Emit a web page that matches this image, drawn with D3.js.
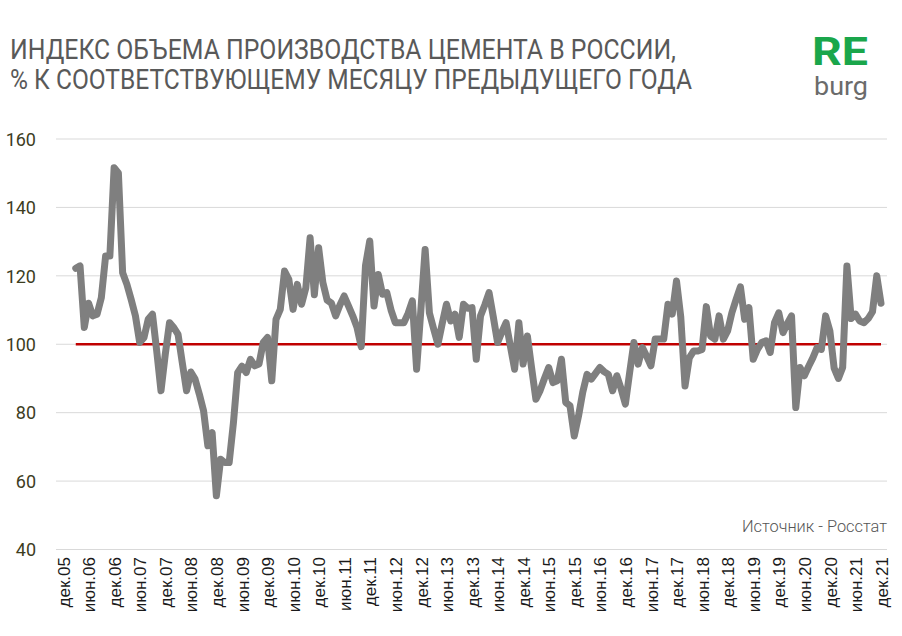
<!DOCTYPE html>
<html>
<head>
<meta charset="utf-8">
<script src="https://cdn.jsdelivr.net/npm/d3@7"></script>
<style>
  html, body { margin: 0; padding: 0; background: #ffffff; }
  svg { display: block; }
</style>
</head>
<body>
<svg id="chart" width="902" height="636"></svg>
<script>
// ---- DATA ----
const titleLines = [
  "ИНДЕКС ОБЪЕМА ПРОИЗВОДСТВА ЦЕМЕНТА В РОССИИ,",
  "% К СООТВЕТСТВУЮЩЕМУ МЕСЯЦУ ПРЕДЫДУЩЕГО ГОДА"
];
const sourceText = "Источник - Росстат";
const monthNames = ["янв","фев","мар","апр","май","июн","июл","авг","сен","окт","ноя","дек"];
const years = ["05","06","07","08","09","10","11","12","13","14","15","16","17","18","19","20","21"];
// categories: дек.05 ... дек.21
const categories = ["дек.05"];
years.slice(1).forEach(y => monthNames.forEach(m => categories.push(m + "." + y)));

const tickLabels = [
  "дек.05","июн.06","дек.06","июн.07","дек.07","июн.08","дек.08","июн.09","дек.09",
  "июн.10","дек.10","июн.11","дек.11","июн.12","дек.12","июн.13","дек.13","июн.14",
  "дек.14","июн.15","дек.15","июн.16","дек.16","июн.17","дек.17","июн.18","дек.18",
  "июн.19","дек.19","июн.20","дек.20","июн.21","дек.21"
];
const yTicks = [40, 60, 80, 100, 120, 140, 160];
const seriesStart = "мар.06";
// index, % to same month of previous year (мар.06 ... дек.21)
const cementIndex = [
  122.2, 122.9, 104.9, 112.0, 108.3, 108.8, 113.6, 125.8, 125.8, 151.6,            // мар.06 - дек.06
  150.1, 120.9, 117.5, 113.1, 108.3, 100.5, 101.9, 107.3, 108.8, 98.0, 86.4, 97.0,  // 2007
  106.3, 104.9, 102.9, 94.6, 86.4, 91.9, 89.8, 85.4, 80.5, 70.3, 74.2, 55.7,        // 2008
  66.4, 65.4, 65.4, 77.0, 91.7, 93.6, 91.7, 95.6, 93.7, 94.2, 100.5, 102.0,         // 2009
  89.3, 107.3, 110.2, 121.4, 119.0, 110.2, 117.5, 111.7, 116.5, 131.1, 114.5, 128.2, // 2010
  118.0, 112.9, 112.0, 108.3, 111.5, 114.1, 111.2, 108.3, 105.0, 99.3, 123.0, 130.2, // 2011
  111.2, 120.4, 114.6, 115.1, 110.0, 106.3, 106.3, 106.3, 109.0, 112.7, 92.7, 110.0, // 2012
  127.7, 109.2, 104.5, 100.0, 106.0, 111.7, 106.8, 108.8, 102.0, 111.7, 110.5, 110.7, // 2013
  95.6, 108.3, 111.5, 115.1, 108.0, 100.5, 103.5, 106.3, 99.5, 92.7, 106.3, 94.2,   // 2014
  102.4, 93.0, 83.9, 86.5, 90.0, 93.2, 88.8, 89.3, 95.6, 83.0, 82.0, 73.2,          // 2015
  79.0, 86.0, 91.2, 89.8, 91.5, 93.2, 92.0, 91.2, 86.4, 90.8, 87.0, 82.5,           // 2016
  91.7, 100.5, 94.2, 99.0, 96.5, 93.7, 101.5, 101.5, 101.5, 111.7, 108.8, 118.5,    // 2017
  108.0, 87.8, 96.0, 98.0, 98.0, 98.5, 111.0, 102.4, 101.5, 108.3, 101.5, 103.9,    // 2018
  109.2, 113.1, 116.8, 107.3, 110.7, 95.6, 98.5, 100.5, 101.0, 97.6, 106.3, 109.2,  // 2019
  103.4, 106.0, 108.3, 81.5, 93.2, 90.8, 93.5, 96.0, 99.0, 98.5, 108.3, 103.9,      // 2020
  93.0, 90.0, 93.2, 122.9, 107.5, 108.8, 106.8, 106.3, 107.5, 109.5, 120.0, 112.0   // 2021
];
const baseline = 100;

// ---- CHART ----
const svg = d3.select("#chart");
const plotLeft = 56, plotRight = 887;

const x = d3.scalePoint().domain(categories).range([63, 881]);
const y = d3.scaleLinear().domain([40, 160]).range([549.5, 139]);

const startIdx = categories.indexOf(seriesStart);
const series = cementIndex.map((v, k) => ({ cat: categories[startIdx + k], v }));

// title
const title = svg.append("g").attr("font-family", "Roboto, 'DejaVu Sans Condensed', sans-serif")
  .attr("fill", "#595959").attr("font-size", 27);
title.append("text").attr("x", 10).attr("y", 59).attr("textLength", 666)
  .attr("lengthAdjust", "spacingAndGlyphs").text(titleLines[0]);
title.append("text").attr("x", 10).attr("y", 89).attr("textLength", 682)
  .attr("lengthAdjust", "spacingAndGlyphs").text(titleLines[1]);

// logo
svg.append("text").attr("x", 812).attr("y", 65).attr("font-family", "Roboto, sans-serif")
  .attr("font-weight", 700).attr("font-size", 38).attr("fill", "#1aa64b")
  .attr("textLength", 56).attr("lengthAdjust", "spacingAndGlyphs").text("RE");
svg.append("text").attr("x", 814).attr("y", 95).attr("font-family", "Roboto, sans-serif")
  .attr("font-weight", 400).attr("font-size", 26).attr("fill", "#6b6b6b")
  .attr("textLength", 54).attr("lengthAdjust", "spacingAndGlyphs").text("burg");

// gridlines
svg.append("g").selectAll("line").data(yTicks).join("line")
  .attr("x1", plotLeft).attr("x2", plotRight)
  .attr("y1", d => y(d)).attr("y2", d => y(d))
  .attr("stroke", "#d9d9d9").attr("stroke-width", 1);

// y axis
const yAxis = svg.append("g").attr("transform", "translate(36,0)")
  .call(d3.axisLeft(y).tickValues(yTicks).tickSize(0).tickPadding(0));
yAxis.select(".domain").remove();
yAxis.selectAll("text").attr("font-family", "Roboto, sans-serif").attr("font-size", 18)
  .attr("fill", "#3d3d1e").attr("dy", "0.35em");

// x axis
const xAxis = svg.append("g").attr("transform", "translate(0,557)")
  .call(d3.axisBottom(x).tickValues(tickLabels).tickSize(0).tickPadding(0));
xAxis.select(".domain").remove();
xAxis.selectAll("text")
  .attr("font-family", "'Liberation Sans', Arial, sans-serif").attr("font-size", 17)
  .attr("fill", "#1a1a1a")
  .attr("transform", "rotate(-90)")
  .attr("text-anchor", "end")
  .attr("x", 0).attr("y", 0).attr("dx", 0).attr("dy", "0.36em");

// baseline 100 (red)
svg.append("path")
  .datum(series)
  .attr("fill", "none").attr("stroke", "#c00000").attr("stroke-width", 2.5)
  .attr("d", d3.line().x(d => x(d.cat)).y(() => y(baseline)));

// index line
svg.append("path")
  .datum(series)
  .attr("fill", "none").attr("stroke", "#7f7f7f").attr("stroke-width", 7)
  .attr("stroke-linejoin", "round").attr("stroke-linecap", "round")
  .attr("d", d3.line().x(d => x(d.cat)).y(d => y(d.v)));

// source
svg.append("text").attr("x", 887).attr("y", 532).attr("text-anchor", "end")
  .attr("font-family", "Roboto, sans-serif").attr("font-weight", 300)
  .attr("font-size", 16).attr("fill", "#555555")
  .attr("textLength", 145).attr("lengthAdjust", "spacingAndGlyphs").text(sourceText);
</script>
</body>
</html>
